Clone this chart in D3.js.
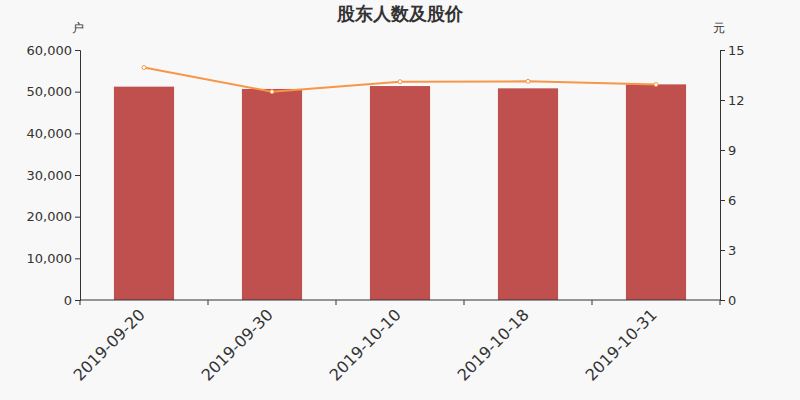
<!DOCTYPE html>
<html>
<head>
<meta charset="utf-8">
<script src="https://cdn.jsdelivr.net/npm/d3@7"></script>
<style>
  body { margin: 0; background: #f8f8f8; }
  svg { display: block; }
  svg text { font-family: "DejaVu Sans", sans-serif; }
</style>
</head>
<body>
<svg id="chart" width="800" height="400"></svg>
<script>
const dates = ["2019-09-20", "2019-09-30", "2019-10-10", "2019-10-18", "2019-10-31"];
const holders = [51200, 50650, 51350, 50800, 51750];
const prices = [13.95, 12.5, 13.1, 13.12, 12.93];
const leftTicks = [0, 10000, 20000, 30000, 40000, 50000, 60000];
const rightTicks = [0, 3, 6, 9, 12, 15];

const svg = d3.select("#chart");
const margin = { top: 50, right: 80, bottom: 100, left: 80 };
const w = 800 - margin.left - margin.right;
const h = 400 - margin.top - margin.bottom;

svg.append("rect").attr("width", 800).attr("height", 400).attr("fill", "#f8f8f8");

svg.append("text")
  .attr("x", 400).attr("y", 20)
  .attr("text-anchor", "middle")
  .attr("font-size", 18).attr("font-weight", "bold")
  .attr("fill", "#333")
  .text("股东人数及股价");

const g = svg.append("g").attr("transform", `translate(${margin.left},${margin.top})`);

const x = d3.scaleBand().domain(dates).range([0, w]).paddingInner(0.53).paddingOuter(0.265);
const xTicks = d3.scalePoint().domain(d3.range(dates.length + 1)).range([0, w]);
const yL = d3.scaleLinear().domain([0, 60000]).range([h, 0]);
const yR = d3.scaleLinear().domain([0, 15]).range([h, 0]);

// bars
g.selectAll("rect.bar")
  .data(holders)
  .enter()
  .append("rect")
  .attr("class", "bar")
  .attr("x", (d, i) => x(dates[i]))
  .attr("y", (d) => yL(d))
  .attr("width", x.bandwidth())
  .attr("height", (d) => h - yL(d))
  .attr("fill", "#c0504d");

// axes
const leftAxis = g.append("g")
  .call(d3.axisLeft(yL).tickValues(leftTicks).tickFormat(d3.format(",")).tickSizeOuter(0).tickSize(5));
const rightAxis = g.append("g")
  .attr("transform", `translate(${w},0)`)
  .call(d3.axisRight(yR).tickValues(rightTicks).tickSizeOuter(0).tickSize(5));

const bottom = g.append("g").attr("transform", `translate(0,${h})`);
bottom.append("line").attr("x1", 0).attr("x2", w).attr("stroke", "#333");
bottom.selectAll("line.tick")
  .data(xTicks.domain())
  .enter()
  .append("line")
  .attr("class", "tick")
  .attr("x1", (d) => xTicks(d)).attr("x2", (d) => xTicks(d))
  .attr("y1", 0).attr("y2", 5)
  .attr("stroke", "#333");
bottom.selectAll("text")
  .data(dates)
  .enter()
  .append("text")
  .attr("transform", (d) => `translate(${x(d) + x.bandwidth() / 2 - 6},${8}) rotate(-45)`)
  .attr("text-anchor", "end")
  .attr("dy", "0.7em")
  .attr("font-size", 16)
  .attr("fill", "#333")
  .text((d) => d);

[leftAxis, rightAxis].forEach((a) => {
  a.attr("font-family", null);
  a.selectAll("path, line").attr("stroke", "#333");
  a.selectAll("text").attr("font-size", 13).attr("fill", "#333");
});

svg.append("text").attr("x", 78).attr("y", 32).attr("text-anchor", "middle")
  .attr("font-size", 12).attr("fill", "#333").text("户");
svg.append("text").attr("x", 719).attr("y", 32).attr("text-anchor", "middle")
  .attr("font-size", 12).attr("fill", "#333").text("元");

// price line
const line = d3.line()
  .x((d, i) => x(dates[i]) + x.bandwidth() / 2)
  .y((d) => yR(d));

g.append("path")
  .datum(prices)
  .attr("d", line)
  .attr("fill", "none")
  .attr("stroke", "#f79646")
  .attr("stroke-width", 2);

g.selectAll("circle.pt")
  .data(prices)
  .enter()
  .append("circle")
  .attr("class", "pt")
  .attr("cx", (d, i) => x(dates[i]) + x.bandwidth() / 2)
  .attr("cy", (d) => yR(d))
  .attr("r", 2)
  .attr("fill", "#fff")
  .attr("stroke", "#f79646")
  .attr("stroke-width", 1);
</script>
</body>
</html>
